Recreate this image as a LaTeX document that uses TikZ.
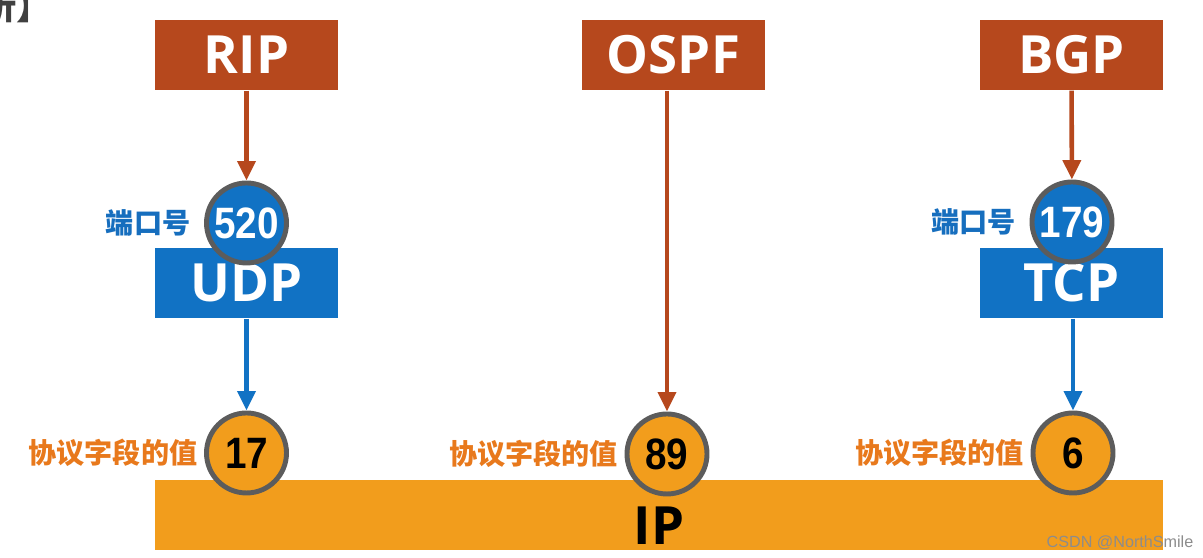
\documentclass[tikz,border=0pt]{standalone}
\usepackage{fontspec}
\usepackage{graphicx}
\setmainfont{Open Sans}
\newfontfamily\numfont{Liberation Sans}
\newfontfamily\cjk{Noto Sans CJK SC}
\usetikzlibrary{positioning,arrows.meta}
\definecolor{rust}{RGB}{182,72,29}
\definecolor{tblue}{RGB}{17,114,196}
\definecolor{ipfill}{RGB}{242,157,28}
\definecolor{tagorange}{RGB}{232,121,28}
\definecolor{tagblue}{RGB}{22,110,190}
\definecolor{ring}{RGB}{92,92,92}
\newcommand{\narrow}[1]{\scalebox{0.88}[1]{#1}}

\begin{document}
\begin{tikzpicture}[
    proto/.style={fill=rust, text=white, minimum width=1.83cm, minimum height=0.70cm, inner sep=0pt, font=\bfseries\fontsize{15}{17}\selectfont},
    trans/.style={proto, fill=tblue},
    port/.style={circle, draw=ring, line width=1.4pt, minimum size=0.80cm, inner sep=0pt, fill=tblue, text=white, font=\numfont\bfseries\fontsize{12.5}{14}\selectfont},
    field/.style={port, fill=ipfill, text=black},
    tag/.style={inner sep=0pt, font=\cjk\bfseries\fontsize{8}{9}\selectfont},
    rarr/.style={-{Triangle[length=5.5pt,width=5pt]}, line width=1.3pt, rust},
    barr/.style={rarr, tblue}
]
    \useasboundingbox (0,0) rectangle (12.03,5.58);

    % cut-off heading at the top left
    \node[anchor=east, inner sep=0pt, text=black!75, font=\cjk\bfseries\fontsize{10}{11}\selectfont] (cut) at (0.52,5.52) {【解析】};

    % IP layer
    \node[fill=ipfill, minimum width=10.08cm, minimum height=0.70cm, inner sep=0pt] (ip) at (6.59,0.43) {};
    \node[inner sep=0pt, font=\bfseries\fontsize{15}{17}\selectfont] (iplabel) at ([yshift=-0.11cm]ip.center) {IP};

    % routing protocols
    \node[proto] (rip) at (2.465,5.03) {RIP};
    \node[proto] (ospf) at (6.735,5.03) {OSPF};
    \node[proto] (bgp) at (10.715,5.03) {BGP};

    % transport layer
    \node[trans] (udp) at (2.465,2.75) {UDP};
    \node[trans] (tcp) at (10.715,2.75) {TCP};

    % port numbers
    \node[port] (p520) at (2.465,3.35) {\narrow{520}};
    \node[port] (p179) at (10.72,3.36) {\narrow{179}};
    \node[tag, text=tagblue, left=0.13cm of p520] (port1) {端口号};
    \node[tag, text=tagblue, left=0.13cm of p179] (port2) {端口号};

    % protocol field values
    \node[field] (f17) at (2.465,1.05) {\narrow{17}};
    \node[field] (f89) at (6.67,1.04) {\narrow{89}};
    \node[field] (f6) at (10.73,1.05) {\narrow{6}};
    \node[tag, text=tagorange, left=0.06cm of f17] (val1) {协议字段的值};
    \node[tag, text=tagorange, left=0.06cm of f89] (val2) {协议字段的值};
    \node[tag, text=tagorange, left=0.06cm of f6] (val3) {协议字段的值};

    \draw[rarr] (rip) -- (p520);
    \draw[rarr] (bgp) -- (p179);
    \draw[rarr] (ospf.south -| f89) -- (f89);
    \draw[barr] (udp) -- (f17);
    \draw[barr] (tcp.south -| f6) -- (f6);

    \node[text=black!45, font=\numfont\fontsize{4.6}{5}\selectfont, inner sep=0pt] (mark) at (11.20,0.15) {CSDN @NorthSmile};
\end{tikzpicture}
\end{document}
